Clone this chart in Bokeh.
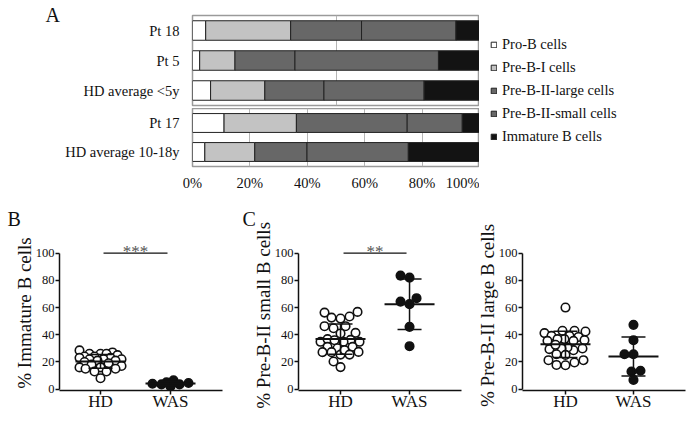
import math
import numpy as np
from bokeh.plotting import figure
from bokeh.models import (Range1d, FactorRange, FixedTicker, PrintfTickFormatter,
                          Legend, LegendItem, Label, ColumnDataSource)
from bokeh.layouts import row, column
from bokeh.embed import file_html
from bokeh.resources import INLINE

FONT = "Liberation Serif"

# ---------------- data: panel A ----------------
samples_top = ["Pt 18", "Pt 5", "HD average <5y"]
samples_bot = ["Pt 17", "HD average 10-18y"]
cell_types = ["Pro-B cells", "Pre-B-I cells", "Pre-B-II-large cells",
              "Pre-B-II-small cells", "Immature B cells"]
pro_b = [4.6, 2.5, 6.3, 11.0, 4.3]
pre_b_i = [29.6, 12.3, 18.9, 25.2, 17.4]
pre_b_ii_large = [24.7, 20.9, 20.6, 38.6, 18.2]
pre_b_ii_small = [32.9, 50.0, 34.9, 19.2, 35.3]
immature = [8.2, 14.3, 19.3, 6.0, 24.8]
pct_ticks = [0, 20, 40, 60, 80, 100]

# ---------------- data: panels B, C ----------------
groups = ["HD", "WAS"]
hd_immature = [27, 26, 28.5, 26, 26, 25, 24, 24, 23, 23, 22, 22, 22, 21, 21,
               20, 19, 18, 17, 16, 16, 15, 15, 13, 13, 8]
was_immature = [4.5, 3.5, 6.5, 2, 5, 3.5, 4]
hd_small = [51.9, 56.3, 52.6, 53.4, 56.8, 46.3, 44.8, 46.3, 40.9, 41.4, 36.2,
            34.8, 34.8, 36.8, 34.8, 36.0, 31.1, 30.1, 31.1, 27.2, 25.4, 28.7,
            25.4, 27.2, 27.4, 20.3, 16.2]
was_small = [83.5, 82, 66.9, 62.5, 64.4, 45.8, 31.6]
hd_large = [60, 41.2, 42.4, 42.9, 42.9, 39.2, 38.4, 39.2, 36.8, 35.5, 36.8,
            35.5, 36, 29.4, 28.6, 30.6, 29.9, 29.9, 32.6, 25.7, 25.2, 21.3,
            19.6, 17.6, 17.8, 21.3]
was_large = [47.3, 36, 25.7, 25.7, 13.5, 13, 6.8]
y_ticks = [0, 20, 40, 60, 80, 100]

stack_keys = ["pro_b", "pre_b_i", "pre_b_ii_large", "pre_b_ii_small", "immature"]
stack_vals = [pro_b, pre_b_i, pre_b_ii_large, pre_b_ii_small, immature]
bar_colors = ["#ffffff", "#c3c3c3", "#676767", "#676767", "#131313"]

TOP_H = 196


def bar_figure(samples, sl, frame_h, top, bottom, gridticks, show_x):
    src = ColumnDataSource(dict(sample=samples,
                                **{k: v[sl] for k, v in zip(stack_keys, stack_vals)}))
    p = figure(frame_width=287, frame_height=frame_h,
               min_border_left=130, min_border_right=0,
               min_border_top=top, min_border_bottom=bottom,
               x_range=Range1d(0, 100),
               y_range=FactorRange(factors=list(reversed(samples)), range_padding=0),
               x_axis_location="below" if show_x else None,
               output_backend="svg", toolbar_location=None)
    p.outline_line_color = "#9a9a9a"
    p.outline_line_width = 1.5
    p.ygrid.visible = False
    p.xgrid.ticker = FixedTicker(ticks=gridticks)
    p.xgrid.grid_line_color = "#b5b5b5"
    p.xgrid.grid_line_width = 1
    p.hbar_stack(stack_keys, y="sample", height=0.65, fill_color=bar_colors,
                 line_color="#222222", line_width=1, source=src)
    ax = p.yaxis[0]
    ax.axis_line_color = None
    ax.major_tick_line_color = None
    ax.minor_tick_line_color = None
    ax.major_tick_out = 0
    ax.major_tick_in = 0
    ax.major_label_standoff = 13
    ax.major_label_text_font = FONT
    ax.major_label_text_font_size = "14.5px"
    ax.major_label_text_color = "#111111"
    if show_x:
        xa = p.xaxis[0]
        xa.ticker = FixedTicker(ticks=pct_ticks)
        xa.formatter = PrintfTickFormatter(format="%d%%")
        xa.axis_line_color = None
        xa.major_tick_line_color = None
        xa.minor_tick_line_color = None
        xa.major_tick_out = 0
        xa.major_tick_in = 0
        xa.major_label_standoff = 8
        xa.major_label_text_font = FONT
        xa.major_label_text_font_size = "14.5px"
        xa.major_label_text_color = "#111111"
    return p


# letter "A" holder
la = figure(frame_width=62, frame_height=TOP_H, min_border=0,
            x_range=Range1d(0, 62), y_range=Range1d(TOP_H, 0),
            x_axis_location=None, y_axis_location=None,
            output_backend="svg", toolbar_location=None)
la.outline_line_color = None
la.grid.visible = False
la.add_layout(Label(x=45, y=14, text="A", text_font=FONT, text_font_size="20px",
                    text_baseline="alphabetic", text_color="#111111"))

a_top = bar_figure(samples_top, slice(0, 3), 90, 15, 3, [50], False)
a_bot = bar_figure(samples_bot, slice(3, 5), 58, 0, 30, [20, 40, 60, 80], True)

# legend figure
lp = figure(frame_width=207, frame_height=TOP_H, min_border=0,
            x_range=Range1d(0, 1), y_range=Range1d(0, 1),
            x_axis_location=None, y_axis_location=None,
            output_backend="svg", toolbar_location=None)
lp.outline_line_color = None
lp.grid.visible = False
items = []
for name, col in zip(cell_types, bar_colors):
    r = lp.hbar(y=[-10], left=[0], right=[0.5], height=0.5, fill_color=col,
                line_color="#222222", line_width=1)
    items.append(LegendItem(label=name, renderers=[r]))
leg = Legend(items=items, location=(11, 50), orientation="vertical", padding=0, margin=0,
             spacing=3, label_height=20, label_standoff=5, glyph_width=7, glyph_height=7,
             border_line_color=None, background_fill_alpha=0,
             label_text_font=FONT, label_text_font_size="14.5px", label_text_color="#111111")
lp.add_layout(leg)


def swarm(vals, ypx, xpx, d, wmax):
    order = sorted(range(len(vals)), key=lambda i: vals[i])
    cands = sorted(range(-wmax, wmax + 1), key=lambda c: (abs(c), c))
    placed, offs = [], [0.0] * len(vals)
    for i in order:
        y = vals[i] * ypx
        best, bestc, bestscore = None, 0, -1
        for c in cands:
            mind = min((math.hypot(c - px, y - py) for px, py in placed), default=1e9)
            if mind >= d:
                best = c
                break
            if mind > bestscore:
                bestscore, bestc = mind, c
        if best is None:
            best = bestc
        placed.append((best, y))
        offs[i] = best / xpx
    return offs


def scatter_panel(hd, was, ylabel, bl, fw, br, xr, sig=None, letter=None, letter_off=0):
    p = figure(frame_width=fw, frame_height=155, min_border_left=bl, min_border_right=br,
               min_border_top=39, min_border_bottom=31,
               x_range=Range1d(*xr), y_range=Range1d(-1, 113),
               output_backend="svg", toolbar_location=None)
    p.outline_line_color = None
    p.grid.visible = False
    ypx = 155 / 114.0
    xpx = fw / (xr[1] - xr[0])
    positions = [i + 1 for i in range(len(groups))]
    for pos, vals, filled in zip(positions, [hd, was], [False, True]):
        offs = swarm(vals, ypx, xpx, 8.5, 21)
        p.scatter([pos + o for o in offs], vals, size=8.5, marker="circle",
                  fill_color="#111111" if filled else "#ffffff",
                  line_color="#111111", line_width=1.6)
        m = float(np.mean(vals))
        s = float(np.std(vals, ddof=1))
        p.segment(x0=[pos - 25 / xpx], x1=[pos + 25 / xpx], y0=[m], y1=[m],
                  line_color="#111111", line_width=2)
        p.segment(x0=[pos], x1=[pos], y0=[m - s], y1=[m + s],
                  line_color="#111111", line_width=1.5)
        p.segment(x0=[pos - 12 / xpx] * 2, x1=[pos + 12 / xpx] * 2, y0=[m - s, m + s],
                  y1=[m - s, m + s], line_color="#111111", line_width=1.5)
    if sig:
        top = y_ticks[-1]
        p.segment(x0=[positions[0] + 3 / xpx], x1=[positions[1] - 3 / xpx], y0=[top], y1=[top],
                  line_color="#111111", line_width=1.2)
        p.text(x=[sum(positions) / 2], y=[top], text=[sig], text_align="center",
               text_baseline="bottom", y_offset=8, text_font=FONT, text_font_size="17px",
               text_color="#555555")
    xa = p.xaxis[0]
    xa.ticker = FixedTicker(ticks=positions)
    xa.major_label_overrides = {pos: g for pos, g in zip(positions, groups)}
    xa.major_tick_out = 4
    xa.major_tick_in = 0
    xa.major_label_standoff = -3
    xa.axis_line_width = 1.5
    xa.major_tick_line_width = 1.5
    xa.axis_line_color = "#111111"
    xa.major_tick_line_color = "#111111"
    xa.major_label_text_font = FONT
    xa.major_label_text_font_size = "17px"
    xa.major_label_text_color = "#111111"
    ya = p.yaxis[0]
    ya.ticker = FixedTicker(ticks=y_ticks)
    ya.bounds = (y_ticks[0], y_ticks[-1])
    ya.major_tick_out = 4
    ya.major_tick_in = 0
    ya.major_label_standoff = 1
    ya.axis_line_width = 1.5
    ya.major_tick_line_width = 1.5
    ya.axis_line_color = "#111111"
    ya.major_tick_line_color = "#111111"
    ya.minor_tick_line_color = None
    ya.major_label_text_font = FONT
    ya.major_label_text_font_size = "12.5px"
    ya.major_label_text_color = "#111111"
    ya.axis_label = ylabel
    ya.axis_label_standoff = -2
    ya.axis_label_text_font = FONT
    ya.axis_label_text_font_size = "19px"
    ya.axis_label_text_font_style = "normal"
    ya.axis_label_text_color = "#111111"
    if letter:
        p.title.text = letter
        p.title.align = "left"
        p.title.offset = letter_off
        p.title.standoff = 12
        p.title.text_font = FONT
        p.title.text_font_size = "20px"
        p.title.text_font_style = "normal"
        p.title.text_color = "#111111"
    return p


pb = scatter_panel(hd_immature, was_immature, "% Immature B cells", 59, 163, 8,
                   (0.414, 2.743), sig="***", letter="B", letter_off=-52)
pc = scatter_panel(hd_small, was_small, "% Pre-B-II small  B cells", 68, 163, 9,
                   (0.391, 2.753), sig="**", letter="C", letter_off=-56)
pd = scatter_panel(hd_large, was_large, "% Pre-B-II large  B cells", 52, 163, 1,
                   (0.368, 2.765))

layout = column(row(la, column(a_top, a_bot), lp), row(pb, pc, pd))
open("out.html", "w").write(file_html(layout, INLINE))
